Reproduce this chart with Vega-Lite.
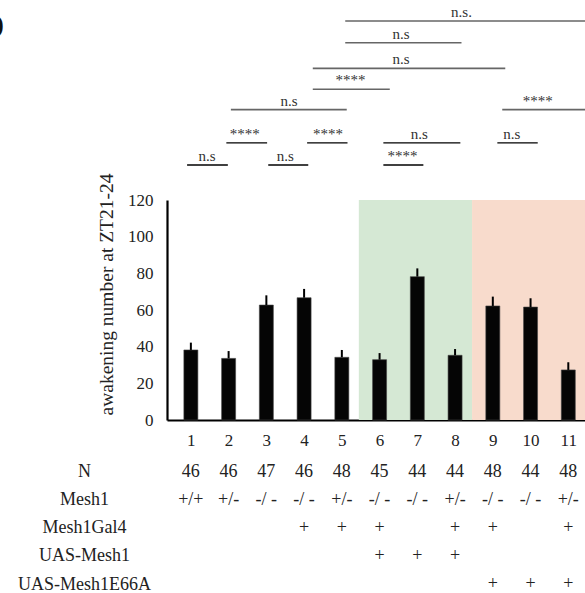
{
  "$schema": "https://vega.github.io/schema/vega-lite/v6.json",
  "autosize": "none",
  "padding": {"left": 167, "top": 200, "right": 0, "bottom": 173},
  "width": 418,
  "height": 220,
  "background": "white",
  "config": {
    "view": {"stroke": null},
    "font": "Liberation Serif",
    "text": {"font": "Liberation Serif"},
    "axis": {
      "labelFont": "Liberation Serif",
      "titleFont": "Liberation Serif",
      "labelOverlap": false,
      "labelFlush": false,
      "grid": false,
      "ticks": false,
      "tickSize": 0,
      "labelColor": "#222",
      "titleColor": "#222"
    },
    "title": {"font": "Liberation Sans"}
  },
  "title": {
    "text": "b",
    "anchor": "start",
    "frame": "group",
    "fontSize": 38,
    "fontWeight": "bold",
    "color": "#111",
    "baseline": "alphabetic",
    "dx": -186,
    "dy": 74
  },
  "datasets": {
    "bars": [
      {"bar": 1, "mean": 38.2, "upper": 42.2},
      {"bar": 2, "mean": 33.6, "upper": 37.6},
      {"bar": 3, "mean": 62.7, "upper": 68.0},
      {"bar": 4, "mean": 66.7, "upper": 71.5},
      {"bar": 5, "mean": 34.2, "upper": 38.2},
      {"bar": 6, "mean": 32.9, "upper": 36.5},
      {"bar": 7, "mean": 78.2, "upper": 82.7},
      {"bar": 8, "mean": 35.3, "upper": 38.7},
      {"bar": 9, "mean": 62.2, "upper": 67.3},
      {"bar": 10, "mean": 61.6, "upper": 66.4},
      {"bar": 11, "mean": 27.3, "upper": 31.5}
    ],
    "zones": [
      {"from": 5.45, "to": 8.45, "rescue": "UAS-Mesh1"},
      {"from": 8.45, "to": 11.6, "rescue": "UAS-Mesh1E66A"}
    ],
    "pairs": [
      {"from": 0.9, "to": 1.98, "level": 139.1, "mid": 1.43, "label": "n.s"},
      {"from": 3.05, "to": 4.11, "level": 139.1, "mid": 3.5, "label": "n.s"},
      {"from": 1.94, "to": 3.02, "level": 151.2, "mid": 2.43, "label": "****"},
      {"from": 4.08, "to": 5.15, "level": 151.2, "mid": 4.63, "label": "****"},
      {"from": 6.1, "to": 8.14, "level": 151.2, "mid": 7.05, "label": "n.s"},
      {"from": 6.1, "to": 7.16, "level": 139.1, "mid": 6.61, "label": "****"},
      {"from": 9.12, "to": 10.19, "level": 151.2, "mid": 9.5, "label": "n.s"}
    ],
    "spans": [
      {"from": 2.06, "to": 5.13, "level": 169.3, "mid": 3.6, "label": "n.s"},
      {"from": 4.23, "to": 6.27, "level": 180.4, "mid": 5.23, "label": "****"},
      {"from": 4.23, "to": 9.33, "level": 191.8, "mid": 6.57, "label": "n.s"},
      {"from": 5.09, "to": 8.17, "level": 205.8, "mid": 6.57, "label": "n.s"},
      {"from": 5.09, "to": 11.6, "level": 217.6, "mid": 8.17, "label": "n.s."},
      {"from": 9.25, "to": 11.6, "level": 169.3, "mid": 10.19, "label": "****"}
    ],
    "genotypes": [
      {"bar": 1, "row": "N", "value": "46"},
      {"bar": 2, "row": "N", "value": "46"},
      {"bar": 3, "row": "N", "value": "47"},
      {"bar": 4, "row": "N", "value": "46"},
      {"bar": 5, "row": "N", "value": "48"},
      {"bar": 6, "row": "N", "value": "45"},
      {"bar": 7, "row": "N", "value": "44"},
      {"bar": 8, "row": "N", "value": "44"},
      {"bar": 9, "row": "N", "value": "48"},
      {"bar": 10, "row": "N", "value": "44"},
      {"bar": 11, "row": "N", "value": "48"},
      {"bar": 1, "row": "Mesh1", "value": "+/+"},
      {"bar": 2, "row": "Mesh1", "value": "+/-"},
      {"bar": 3, "row": "Mesh1", "value": "-/ -"},
      {"bar": 4, "row": "Mesh1", "value": "-/ -"},
      {"bar": 5, "row": "Mesh1", "value": "+/-"},
      {"bar": 6, "row": "Mesh1", "value": "-/ -"},
      {"bar": 7, "row": "Mesh1", "value": "-/ -"},
      {"bar": 8, "row": "Mesh1", "value": "+/-"},
      {"bar": 9, "row": "Mesh1", "value": "-/ -"},
      {"bar": 10, "row": "Mesh1", "value": "-/ -"},
      {"bar": 11, "row": "Mesh1", "value": "+/-"},
      {"bar": 4, "row": "Mesh1Gal4", "value": "+"},
      {"bar": 5, "row": "Mesh1Gal4", "value": "+"},
      {"bar": 6, "row": "Mesh1Gal4", "value": "+"},
      {"bar": 8, "row": "Mesh1Gal4", "value": "+"},
      {"bar": 9, "row": "Mesh1Gal4", "value": "+"},
      {"bar": 11, "row": "Mesh1Gal4", "value": "+"},
      {"bar": 6, "row": "UAS-Mesh1", "value": "+"},
      {"bar": 7, "row": "UAS-Mesh1", "value": "+"},
      {"bar": 8, "row": "UAS-Mesh1", "value": "+"},
      {"bar": 9, "row": "UAS-Mesh1E66A", "value": "+"},
      {"bar": 10, "row": "UAS-Mesh1E66A", "value": "+"},
      {"bar": 11, "row": "UAS-Mesh1E66A", "value": "+"}
    ]
  },
  "resolve": {"scale": {"y": "independent"}},
  "layer": [
    {
      "layer": [
        {
          "data": {"name": "zones"},
          "mark": {"type": "rect"},
          "encoding": {
            "x": {
              "field": "from",
              "type": "quantitative",
              "scale": {"domain": [0.5, 11.31], "nice": false, "zero": false},
              "axis": {
                "title": null,
                "values": [1, 2, 3, 4, 5, 6, 7, 8, 9, 10, 11],
                "tickCount": 12,
                "format": "d",
                "domainColor": "#000",
                "domainWidth": 2.2,
                "labelFontSize": 17,
                "labelPadding": 12
              }
            },
            "x2": {"field": "to"},
            "y": {
              "datum": 0,
              "type": "quantitative",
              "scale": {"domain": [0, 120], "nice": false, "zero": true},
              "axis": {
                "orient": "left",
                "values": [0, 20, 40, 60, 80, 100, 120],
                "tickCount": 8,
                "domainColor": "#000",
                "domainWidth": 2.2,
                "labelFontSize": 17,
                "labelPadding": 14,
                "title": "awakening  number at ZT21-24",
                "titleFontSize": 19.5,
                "titleFontWeight": "normal",
                "titleAngle": -90,
                "titleAlign": "center",
                "titleBaseline": "middle",
                "titleX": -61,
                "titleY": 94
              }
            },
            "y2": {"datum": 120},
            "color": {
              "field": "rescue",
              "type": "nominal",
              "scale": {"domain": ["UAS-Mesh1", "UAS-Mesh1E66A"], "range": ["#d5e8d4", "#f8dbcc"]},
              "legend": null
            }
          }
        },
        {
          "data": {"name": "bars"},
          "mark": {"type": "bar", "orient": "vertical", "width": 14, "color": "#050505", "stroke": "#444", "strokeWidth": 0.6},
          "encoding": {
            "x": {"field": "bar", "type": "quantitative"},
            "y": {"field": "mean", "type": "quantitative", "stack": null}
          }
        },
        {
          "data": {"name": "bars"},
          "mark": {"type": "rule", "color": "#000", "strokeWidth": 2},
          "encoding": {
            "x": {"field": "bar", "type": "quantitative"},
            "y": {"field": "mean", "type": "quantitative"},
            "y2": {"field": "upper"}
          }
        },
        {
          "data": {"name": "pairs"},
          "layer": [
            {
              "mark": {"type": "rule", "color": "#000", "strokeWidth": 1.3},
              "encoding": {
                "x": {"field": "from", "type": "quantitative"},
                "x2": {"field": "to"},
                "y": {"field": "level", "type": "quantitative"}
              }
            },
            {
              "mark": {"type": "text", "font": "Liberation Serif", "fontSize": 15, "color": "#333", "baseline": "alphabetic", "dy": -4},
              "encoding": {
                "x": {"field": "mid", "type": "quantitative"},
                "y": {"field": "level", "type": "quantitative"},
                "text": {"field": "label"}
              }
            }
          ]
        },
        {
          "data": {"name": "spans"},
          "layer": [
            {
              "mark": {"type": "rule", "color": "#666", "strokeWidth": 1.6},
              "encoding": {
                "x": {"field": "from", "type": "quantitative"},
                "x2": {"field": "to"},
                "y": {"field": "level", "type": "quantitative"}
              }
            },
            {
              "mark": {"type": "text", "font": "Liberation Serif", "fontSize": 15, "color": "#333", "baseline": "alphabetic", "dy": -4},
              "encoding": {
                "x": {"field": "mid", "type": "quantitative"},
                "y": {"field": "level", "type": "quantitative"},
                "text": {"field": "label"}
              }
            }
          ]
        }
      ]
    },
    {
      "data": {"name": "genotypes"},
      "mark": {"type": "text", "font": "Liberation Serif", "fontSize": 18, "color": "#222", "baseline": "middle"},
      "encoding": {
        "x": {"field": "bar", "type": "quantitative"},
        "y": {
          "field": "row",
          "type": "ordinal",
          "scale": {
            "type": "point",
            "domain": ["N", "Mesh1", "Mesh1Gal4", "UAS-Mesh1", "UAS-Mesh1E66A"],
            "range": [271.7, 384],
            "padding": 0
          },
          "axis": {
            "orient": "left",
            "title": null,
            "domain": false,
            "labelAlign": "center",
            "labelPadding": 83,
            "labelFontSize": 18
          }
        },
        "text": {"field": "value"}
      }
    }
  ]
}
